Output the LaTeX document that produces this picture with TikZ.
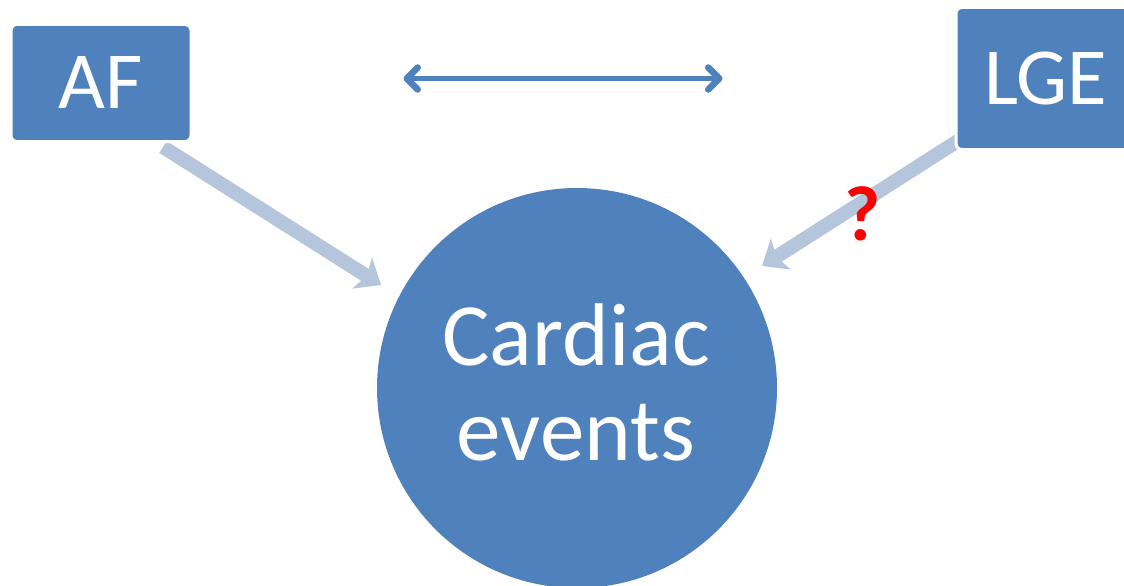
\documentclass[tikz,border=0pt]{standalone}
\usepackage{fontspec}
\setmainfont{Carlito}
\usepackage{xcolor}
\usetikzlibrary{arrows.meta}

\definecolor{boxblue}{RGB}{79,129,189}
\definecolor{paleblue}{RGB}{180,197,220}

\tikzset{
    factor/.style={fill=boxblue, draw=white, line width=3pt, rounded corners=6pt,
                   text=white, minimum width=180pt, minimum height=117pt,
                   font=\fontsize{81}{81}\selectfont},
    bigarrow/.style={paleblue, line width=14pt,
                     -{Stealth[length=22pt,width=36pt,inset=5pt]}},
    barb/.tip={Straight Barb[length=11pt,width=22pt,line width=6.5pt,round]},
    dblarrow/.style={boxblue, line width=5pt, {barb}-{barb}}
}

\begin{document}
\begin{tikzpicture}[x=1pt,y=-1pt]
                \useasboundingbox[fill=white] (0,0) rectangle (1124,586);

                \coordinate (aftip) at (381,285);
                \coordinate (lgetip) at (762,266);

                \node [circle, fill=boxblue, minimum size=400pt, inner sep=0pt]
                                        (ev) at (577,388) {};
                \node [text=white, align=center, anchor=base,
                        font=\fontsize{89}{95}\selectfont]
                                        (evtext) at (576,460) {Cardiac\\events};

                \draw[bigarrow] (163,147) -- (aftip);
                \draw[bigarrow] (975,130) -- (lgetip);

                \node [factor] (af) at (101,83) {AF};
                \node [factor, minimum height=142pt] (lge) at (1046,78.5) {LGE};

                \draw[dblarrow, shorten <=211pt, shorten >=232pt]
                                        (af.east |- lge.west) -- (lge.west);

                \node [text=red, font=\fontsize{78}{78}\bfseries\selectfont]
                                        (q) at (863,214) {?};
            \end{tikzpicture}
\end{document}
